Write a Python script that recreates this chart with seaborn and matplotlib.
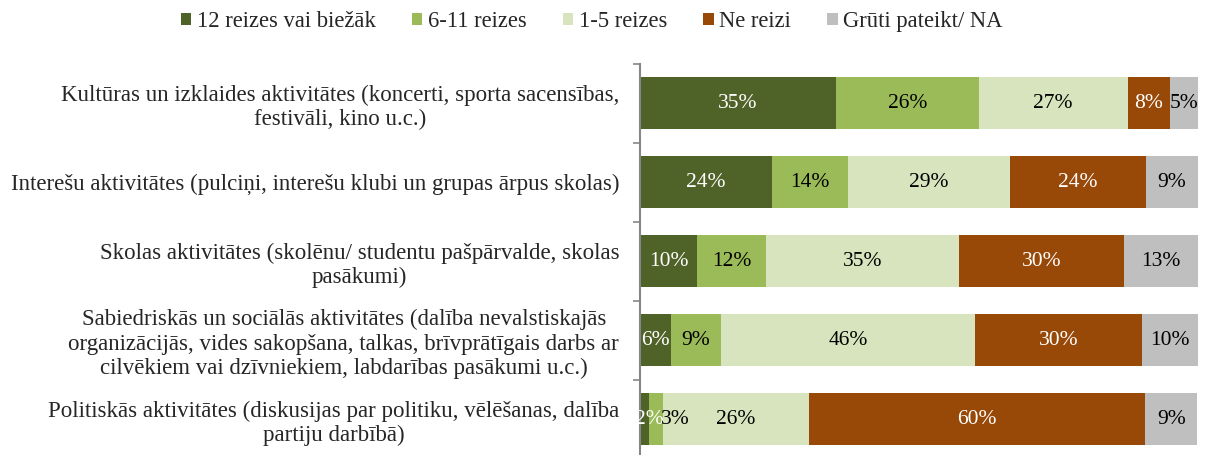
import matplotlib
matplotlib.use("Agg")
from matplotlib import pyplot as plt
from matplotlib.patches import Patch
from matplotlib.ticker import FixedLocator, NullLocator
import numpy as np
import pandas as pd
import seaborn as sns

# categories (top to bottom)
categories = [
    "Kultūras un izklaides aktivitātes (koncerti, sporta sacensības,\nfestivāli, kino u.c.)",
    "Interešu aktivitātes (pulciņi, interešu klubi un grupas ārpus skolas)",
    "Skolas aktivitātes (skolēnu/ studentu pašpārvalde, skolas\npasākumi)",
    "Sabiedriskās un sociālās aktivitātes (dalība nevalstiskajās\norganizācijās, vides sakopšana, talkas, brīvprātīgais darbs ar\ncilvēkiem vai dzīvniekiem, labdarības pasākumi u.c.)",
    "Politiskās aktivitātes (diskusijas par politiku, vēlēšanas, dalība\npartiju darbībā)",
]

series_names = ["12 reizes vai biežāk", "6-11 reizes", "1-5 reizes", "Ne reizi", "Grūti pateikt/ NA"]

# percent values per series
vals_12 = [35.1, 23.6, 10.2, 5.6, 1.6]
vals_6_11 = [25.6, 13.6, 12.4, 8.9, 2.6]
vals_1_5 = [26.7, 29.2, 34.6, 45.6, 26.0]
vals_ne = [7.6, 24.2, 29.6, 29.9, 60.3]
vals_na = [5.0, 9.4, 13.2, 10.0, 9.4]

colors = ["#4F6228", "#9BBB59", "#D7E4BD", "#984807", "#BFBFBF"]
label_colors = ["white", "black", "black", "white", "black"]

# labels of the two tiny segments in the last row are pushed right, like in the original
label_shift = {(4, 0): 0.8, (4, 1): 3.5}

sns.set_theme(style="white")
plt.rcParams["font.family"] = ["Liberation Serif", "DejaVu Serif"]

df = pd.DataFrame(
    {"category": categories, series_names[0]: vals_12, series_names[1]: vals_6_11,
     series_names[2]: vals_1_5, series_names[3]: vals_ne, series_names[4]: vals_na}
)
values = df[series_names].to_numpy()
cum = values.cumsum(axis=1)

fig = plt.figure(figsize=(12.08, 4.55), dpi=100)
ax = fig.add_axes([0.5298, -0.0077, 0.4619, 0.8681])

# stacked bars: draw cumulative totals from the widest to the narrowest
for i in reversed(range(len(series_names))):
    sns.barplot(x=cum[:, i], y=df["category"], orient="h", color=colors[i],
                width=0.66, saturation=1, ax=ax, edgecolor="none")

for i in range(len(series_names)):
    for j in range(len(categories)):
        center = cum[j, i] - values[j, i] / 2 + label_shift.get((j, i), 0)
        ax.text(center, j, f"{values[j, i]:.0f}%", ha="center", va="center",
                color=label_colors[i], fontsize=15.5)

ax.set_xlim(0, 100)
ax.set_ylim(len(categories) - 0.5, -0.5)
ax.set_xlabel("")
ax.set_ylabel("")
ax.xaxis.set_major_locator(NullLocator())
for side in ["top", "right", "bottom"]:
    ax.spines[side].set_visible(False)
ax.spines["left"].set_color("#868686")
ax.spines["left"].set_linewidth(1.5)

ax.set_yticks(range(len(categories)))
ax.set_yticklabels(categories, fontsize=16.5, multialignment="center", linespacing=1.2)
ax.tick_params(axis="y", which="major", length=0, pad=15)
ax.yaxis.set_minor_locator(FixedLocator(np.arange(-0.5, len(categories), 1)))
ax.tick_params(axis="y", which="minor", length=5, width=1.2, color="#868686", left=True)

handles = [Patch(facecolor=c, edgecolor="none") for c in colors]
fig.legend(handles, series_names, loc="center", bbox_to_anchor=(0.49, 0.952), ncol=5,
           frameon=False, fontsize=16.3, handlelength=0.45, handleheight=0.45,
           handletextpad=0.25, columnspacing=1.6)

fig.savefig("out.png", dpi=100)
